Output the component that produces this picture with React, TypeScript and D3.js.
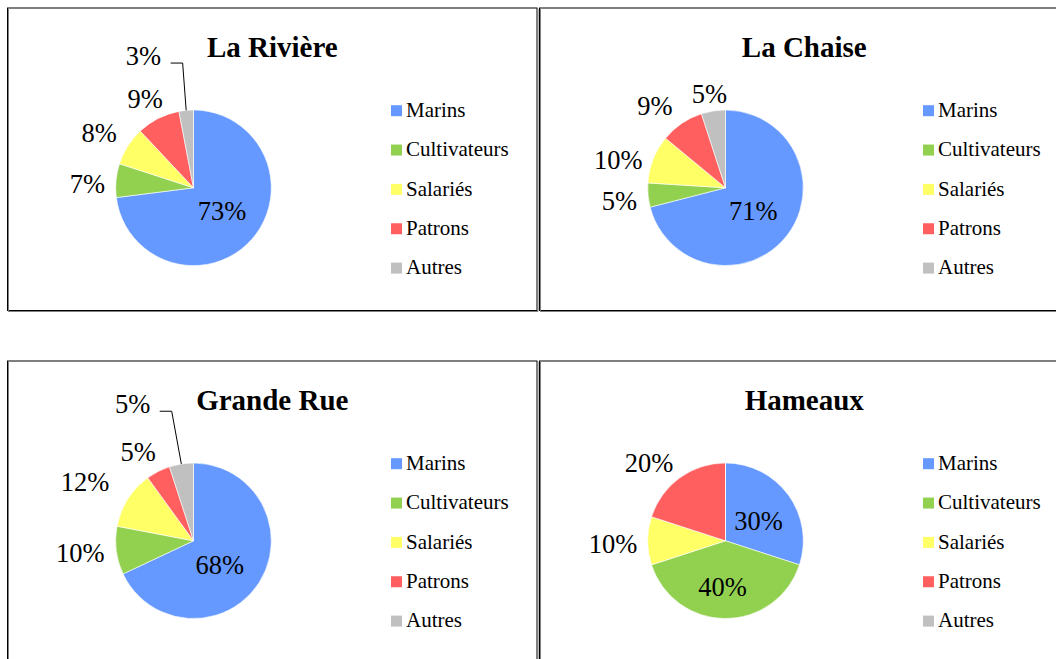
import React from "react";
import * as d3 from "d3";

const CATEGORIES = ["Marins", "Cultivateurs", "Salariés", "Patrons", "Autres"];
const COLORS = ["#6699FF", "#92D050", "#FFFF66", "#FF5F5F", "#C0C0C0"];

const TITLES = ["La Rivière", "La Chaise", "Grande Rue", "Hameaux"];
const RIVIERE = [73, 7, 8, 9, 3];
const CHAISE = [71, 5, 10, 9, 5];
const GRANDE_RUE = [68, 10, 12, 5, 5];
const HAMEAUX = [30, 40, 10, 20, 0];
const SERIES = [RIVIERE, CHAISE, GRANDE_RUE, HAMEAUX];

// label placement: "in" inside slice, "out" outside end, "leader" pulled out with leader line
const LABEL_MODES = [
  ["in", "out", "out", "out", "leader"],
  ["in", "out", "out", "out", "out"],
  ["in", "out", "out", "out", "leader"],
  ["in", "in", "out", "out", "none"],
];
const LABEL_NUDGES = [
  [[1, -1], [0, 6], [-4.5, -1], [0, 1], [-40, -31.4]],
  [[-1, 0.6], [0, 4], [-2, 10], [-10.7, 2.3], [0.5, 6.5]],
  [[-4.5, 4.5], [-1, -0.6], [-13, -5], [-7, 1.6], [-44.3, -37]],
  [[3.5, 1.5], [-3, 10], [0.5, 3], [-10, 4.3], [0, 0]],
];

const W = 1056;
const H = 659;
const PANEL_W = 529.5;
const PANEL_H = 302.5;
const PANEL_X = [7.5, 539.5];
const PANEL_Y = [8, 361];
const FONT = "'Liberation Serif', 'Times New Roman', serif";
const LABEL_FS = 26.5;
const R = 77.8;

function textWidth(s: string, fs: number) {
  let w = 0;
  for (const ch of s) w += ch === "%" ? 0.833 : 0.5;
  return w * fs;
}

function Panel({ idx }: { idx: number }) {
  const px = PANEL_X[idx % 2];
  const py = PANEL_Y[Math.floor(idx / 2)];
  const values = SERIES[idx];
  const cx = 186;
  const cy = 179.8;
  const pie = d3.pie<number>().sort(null).value((d) => d)(values);
  const arc = d3.arc<d3.PieArcDatum<number>>().innerRadius(0).outerRadius(R);

  const labels = pie.map((p, i) => {
    const mode = LABEL_MODES[idx][i];
    if (mode === "none" || p.value === 0) return null;
    const text = `${p.value}%`;
    const mid = (p.startAngle + p.endAngle) / 2;
    const dx = Math.sin(mid);
    const dy = -Math.cos(mid);
    const w = textWidth(text, LABEL_FS);
    const h = 24;
    let lx: number, ly: number;
    if (mode === "in") {
      lx = dx * R * 0.47;
      ly = dy * R * 0.47;
    } else {
      const rr = R + 11;
      lx = dx * rr + (dx * w) / 2;
      ly = dy * rr + (dy * h) / 2;
    }
    const [nx, ny] = LABEL_NUDGES[idx][i];
    lx += nx;
    ly += ny;
    let leader = null;
    if (mode === "leader") {
      const sx = lx + w / 2 + 9.5;
      const sy = ly + 7;
      const ex = dx * R;
      const ey = dy * R;
      leader = (
        <polyline
          points={`${sx},${sy} ${sx + 12},${sy} ${ex},${ey}`}
          fill="none"
          stroke="#000"
          strokeWidth={1}
        />
      );
    }
    return (
      <g key={i}>
        {leader}
        <text
          x={lx}
          y={ly + LABEL_FS * 0.33}
          textAnchor="middle"
          fontFamily={FONT}
          fontSize={LABEL_FS}
          fill="#000"
        >
          {text}
        </text>
      </g>
    );
  });

  return (
    <g transform={`translate(${px},${py})`}>
      <rect x={0} y={0} width={PANEL_W} height={PANEL_H} fill="#fff" stroke="#000" strokeWidth={1} />
      <line x1={1} y1={0.5} x2={1} y2={PANEL_H + 1} stroke="#808080" strokeWidth={1} />
      <line x1={PANEL_W + 1} y1={0.5} x2={PANEL_W + 1} y2={PANEL_H + 1} stroke="#808080" strokeWidth={1} />
      <line x1={0.5} y1={PANEL_H + 1} x2={PANEL_W + 1} y2={PANEL_H + 1} stroke="#808080" strokeWidth={1} />
      <text
        x={PANEL_W / 2}
        y={48.5}
        textAnchor="middle"
        fontFamily={FONT}
        fontWeight="bold"
        fontSize={29}
        fill="#000"
      >
        {TITLES[idx]}
      </text>
      <g transform={`translate(${cx},${cy})`}>
        {pie.map((p, i) => (
          <path key={i} d={arc(p) || ""} fill={COLORS[i]} stroke="#fff" strokeWidth={0.6} />
        ))}
        {labels}
      </g>
      <g>
        {CATEGORIES.map((c, i) => {
          const ry = 101.7 + i * 39.35;
          return (
            <g key={c}>
              <rect x={383.5} y={ry - 4.5} width={11} height={11} fill={COLORS[i]} />
              <text x={398.5} y={ry + 7.3} fontFamily={FONT} fontSize={21} fill="#000">
                {c}
              </text>
            </g>
          );
        })}
      </g>
    </g>
  );
}

export default function App() {
  return (
    <svg
      width={W}
      height={H}
      viewBox={`0 0 ${W} ${H}`}
      style={{ position: "absolute", left: 0, top: 0, background: "#fff" }}
    >
      <rect x={0} y={0} width={W} height={H} fill="#fff" />
      {[0, 1, 2, 3].map((i) => (
        <Panel key={i} idx={i} />
      ))}
    </svg>
  );
}
